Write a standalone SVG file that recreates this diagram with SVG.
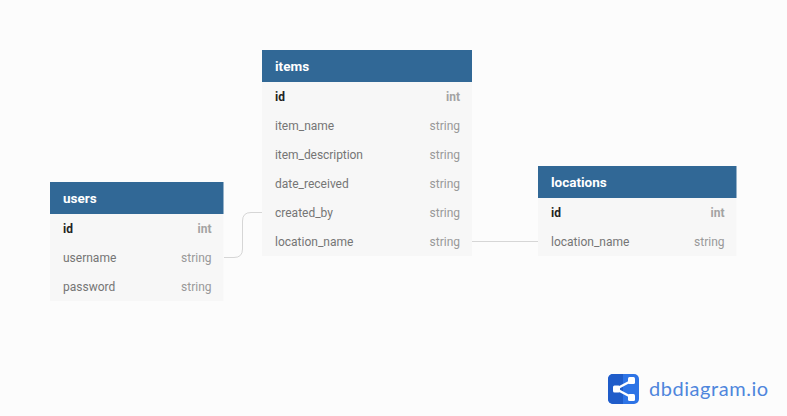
<svg xmlns="http://www.w3.org/2000/svg" width="787" height="416" viewBox="0 0 787 416">
<style>
text{font-family:Roboto,"Liberation Sans",sans-serif;font-size:12px;fill:#757575}
.body{fill:#f7f7f7}
.head{fill:#316896}
.title{font-size:13.500px;font-weight:700;fill:#fff}
.pk{font-weight:700;fill:#222}
.t{text-anchor:end;fill:#999}
.tpk{text-anchor:end;font-weight:700;fill:#a3a3a3}
.conn{fill:none;stroke:#d6d6d6;stroke-width:1}
</style>
<rect width="787" height="416" fill="#fcfcfc"/>
<g id="connectors">
<path class="conn" d="M224 257.500H234Q242.500 257.500 242.500 249V221Q242.500 212.500 251 212.500H262"/>
<path class="conn" d="M472 241.500H538"/>
</g>
<g id="users">
<rect class="body" x="50" y="214" width="173.500" height="87"/>
<rect class="head" x="50" y="182" width="173.500" height="32"/>
<text class="title" x="63" y="203">users</text>
<text class="pk" x="63" y="233">id</text><text class="tpk" x="211.500" y="233">int</text>
<text x="63" y="262">username</text><text class="t" x="211.500" y="262">string</text>
<text x="63" y="291">password</text><text class="t" x="211.500" y="291">string</text>
</g>
<g id="items">
<rect class="body" x="262" y="82" width="210" height="174"/>
<rect class="head" x="262" y="50" width="210" height="32"/>
<text class="title" x="275" y="71">items</text>
<text class="pk" x="275" y="101">id</text><text class="tpk" x="460" y="101">int</text>
<text x="275" y="130">item_name</text><text class="t" x="460" y="130">string</text>
<text x="275" y="159" textLength="88" lengthAdjust="spacing">item_description</text><text class="t" x="460" y="159">string</text>
<text x="275" y="188">date_received</text><text class="t" x="460" y="188">string</text>
<text x="275" y="217">created_by</text><text class="t" x="460" y="217">string</text>
<text x="275" y="246">location_name</text><text class="t" x="460" y="246">string</text>
</g>
<g id="locations">
<rect class="body" x="538" y="198" width="198.500" height="58"/>
<rect class="head" x="538" y="166" width="198.500" height="32"/>
<text class="title" x="551" y="187">locations</text>
<text class="pk" x="551" y="217">id</text><text class="tpk" x="724.500" y="217">int</text>
<text x="551" y="246">location_name</text><text class="t" x="724.500" y="246">string</text>
</g>
<g id="logo">
<rect x="608" y="374" width="31" height="30" rx="5" fill="#2e74e6"/>
<path d="M608 379a5 5 0 0 1 5-5h10v30h-10a5 5 0 0 1-5-5z" fill="#1f5cc9"/>
<path d="M616 389L632 380.500M616 389L632 397.500" stroke="#fff" stroke-width="2.500" fill="none"/>
<rect x="613" y="385.500" width="7" height="7" rx="1.500" fill="#fff"/>
<rect x="628" y="377" width="7" height="7" rx="1.500" fill="#fff"/>
<rect x="628" y="394" width="7" height="7" rx="1.500" fill="#fff"/>
<text x="649" y="396" style="font-family:Lato,'Open Sans',sans-serif;font-size:20px;fill:#4f86dc;letter-spacing:.55px">dbdiagram.io</text>
</g>
</svg>
